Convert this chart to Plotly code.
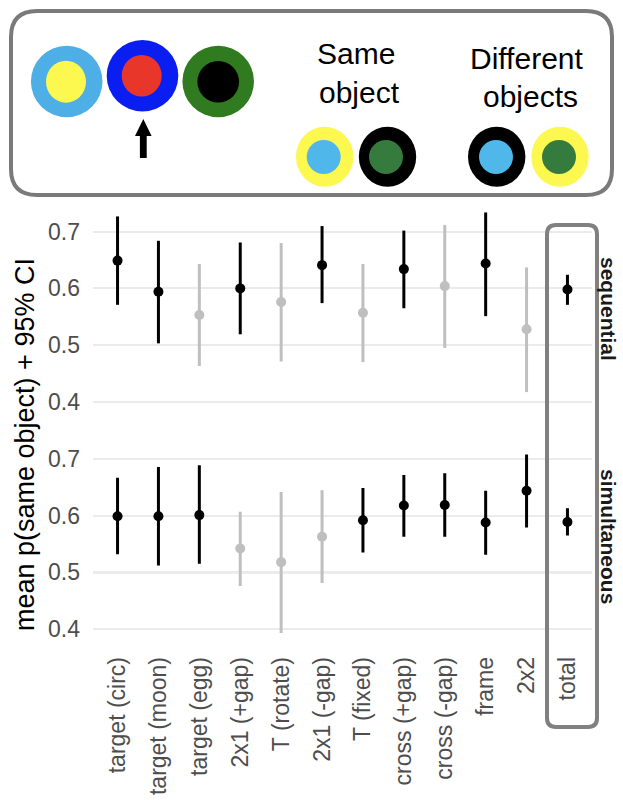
import plotly.graph_objects as go

W, H = 623, 800

categories = ["target (circ)", "target (moon)", "target (egg)", "2x1 (+gap)", "T (rotate)",
              "2x1 (-gap)", "T (fixed)", "cross (+gap)", "cross (-gap)", "frame", "2x2", "total"]

seq_mean = [0.649, 0.594, 0.553, 0.600, 0.576, 0.641, 0.557, 0.634, 0.604, 0.644, 0.528, 0.598]
seq_lo = [0.571, 0.503, 0.463, 0.519, 0.471, 0.574, 0.470, 0.565, 0.495, 0.551, 0.417, 0.571]
seq_hi = [0.727, 0.684, 0.643, 0.681, 0.680, 0.710, 0.643, 0.702, 0.712, 0.734, 0.637, 0.624]
seq_sig = [1, 1, 0, 1, 0, 1, 0, 1, 0, 1, 0, 1]

sim_mean = [0.599, 0.599, 0.601, 0.542, 0.518, 0.563, 0.592, 0.618, 0.619, 0.588, 0.644, 0.589]
sim_lo = [0.532, 0.512, 0.515, 0.476, 0.393, 0.481, 0.535, 0.563, 0.563, 0.531, 0.579, 0.565]
sim_hi = [0.667, 0.686, 0.689, 0.607, 0.642, 0.645, 0.649, 0.672, 0.675, 0.644, 0.708, 0.613]
sim_sig = [1, 1, 1, 0, 0, 0, 1, 1, 1, 1, 1, 1]

y_ticks = [0.4, 0.5, 0.6, 0.7]
y_tick_labels = ["0.4", "0.5", "0.6", "0.7"]
ref_value = 0.5
y_range = [0.3764, 0.7505]

FONT = "Liberation Sans, Arial, Helvetica, sans-serif"
BLACK = "#000000"
GREY = "#bfbfbf"


def X(px):
    return px / W


def Y(py):
    return 1 - py / H


def rr_path(x0, y0, x1, y1, r):
    return (f"M {X(x0 + r)},{Y(y0)} L {X(x1 - r)},{Y(y0)} "
            f"Q {X(x1)},{Y(y0)} {X(x1)},{Y(y0 + r)} "
            f"L {X(x1)},{Y(y1 - r)} Q {X(x1)},{Y(y1)} {X(x1 - r)},{Y(y1)} "
            f"L {X(x0 + r)},{Y(y1)} Q {X(x0)},{Y(y1)} {X(x0)},{Y(y1 - r)} "
            f"L {X(x0)},{Y(y0 + r)} Q {X(x0)},{Y(y0)} {X(x0 + r)},{Y(y0)} Z")


fig = go.Figure()


def add_panel(mean, lo, hi, sig, xa, ya):
    for flag, col in [(0, GREY), (1, BLACK)]:
        idx = [i for i in range(len(categories)) if sig[i] == flag]
        fig.add_trace(go.Scatter(
            x=[categories[i] for i in idx],
            y=[mean[i] for i in idx],
            mode="markers",
            marker=dict(size=10, color=col),
            error_y=dict(type="data", symmetric=False,
                         array=[hi[i] - mean[i] for i in idx],
                         arrayminus=[mean[i] - lo[i] for i in idx],
                         thickness=3, width=0, color=col),
            xaxis=xa, yaxis=ya, showlegend=False, hoverinfo="skip"))


add_panel(seq_mean, seq_lo, seq_hi, seq_sig, "x", "y")
add_panel(sim_mean, sim_lo, sim_hi, sim_sig, "x2", "y2")

x_dom = [X(93), X(592)]
seq_dom = [Y(415.1), Y(203.1)]
sim_dom = [Y(642.4), Y(430.4)]

xcommon = dict(type="category", categoryorder="array", categoryarray=categories,
               range=[-0.6, len(categories) - 0.4], showgrid=False, zeroline=False,
               showline=False, ticks="", domain=x_dom)
ycommon = dict(range=y_range, tickvals=y_ticks, ticktext=y_tick_labels, showgrid=True,
               gridcolor="#ebebeb", gridwidth=1.5, zeroline=False, showline=False, ticks="",
               tickfont=dict(family=FONT, size=23, color="#4d4d4d"), ticklabelstandoff=12)

fig.update_layout(
    width=W, height=H, autosize=False,
    margin=dict(l=0, r=0, t=0, b=0),
    paper_bgcolor="white", plot_bgcolor="white",
    xaxis=dict(**xcommon, anchor="y", showticklabels=False),
    yaxis=dict(**ycommon, domain=seq_dom, anchor="x"),
    xaxis2=dict(**xcommon, anchor="y2", showticklabels=True, tickangle=-90,
                tickfont=dict(family=FONT, size=23, color="#4d4d4d"), ticklabelstandoff=9),
    yaxis2=dict(**ycommon, domain=sim_dom, anchor="x2"),
)

shapes = []
for ya in ["y", "y2"]:
    xr = "x domain" if ya == "y" else "x2 domain"
    shapes.append(dict(type="line", xref=xr, yref=ya, x0=0, x1=1, y0=ref_value, y1=ref_value,
                       line=dict(color="#bdbdbd", width=2), layer="below"))

shapes.append(dict(type="path", xref="paper", yref="paper", path=rr_path(547, 225, 597, 727, 9),
                   line=dict(color="#808080", width=4), layer="above"))
shapes.append(dict(type="path", xref="paper", yref="paper", path=rr_path(11, 11, 612, 195, 26),
                   line=dict(color="#7a7a7a", width=4), fillcolor="white", layer="above"))


def ellipse(cx, cy, rx, ry, color):
    shapes.append(dict(type="circle", xref="paper", yref="paper",
                       x0=X(cx - rx), x1=X(cx + rx), y0=Y(cy + ry), y1=Y(cy - ry),
                       fillcolor=color, line=dict(width=0), layer="above"))


LBLUE = "#4eaee6"
YELLOW = "#fcf84f"
BLUE = "#0a1ef2"
RED = "#e8372a"
DGREEN = "#307a20"
GREEN2 = "#367b3e"
LBLUE2 = "#50b7ea"

ellipse(66.7, 81.5, 35.8, 35.8, LBLUE)
ellipse(66.0, 81.7, 20.0, 21.0, YELLOW)
ellipse(142.5, 75.8, 35.8, 35.8, BLUE)
ellipse(141.7, 75.8, 20.0, 20.8, RED)
ellipse(218.2, 81.5, 35.8, 35.8, DGREEN)
ellipse(218.2, 81.8, 20.8, 20.8, "#000000")

ellipse(324.7, 156.7, 28.7, 30, YELLOW)
ellipse(323.7, 157, 17, 17, LBLUE2)
ellipse(387.5, 156.7, 28.7, 30, "#000000")
ellipse(386.0, 157, 17, 17, GREEN2)
ellipse(496.7, 156.7, 28.7, 30, "#000000")
ellipse(496.0, 157, 17, 17, LBLUE2)
ellipse(560.0, 156.7, 28.7, 30, YELLOW)
ellipse(559.0, 157, 17, 17, GREEN2)

ax = 143.3
arrow = (f"M {X(ax)},{Y(119)} L {X(ax + 8.3)},{Y(136)} L {X(ax + 3.4)},{Y(136)} "
         f"L {X(ax + 3.4)},{Y(158)} L {X(ax - 3.4)},{Y(158)} L {X(ax - 3.4)},{Y(136)} "
         f"L {X(ax - 8.3)},{Y(136)} Z")
shapes.append(dict(type="path", xref="paper", yref="paper", path=arrow,
                   fillcolor="#000000", line=dict(width=0), layer="above"))

fig.update_layout(shapes=shapes)

ann = []


def text(s, px, py, size, color="#000000", angle=0):
    ann.append(dict(text=s, x=X(px), y=Y(py), xref="paper", yref="paper", showarrow=False,
                    xanchor="center", yanchor="middle", textangle=angle,
                    font=dict(family=FONT, size=size, color=color)))


text("Same", 356, 53, 30)
text("object", 359, 92, 30)
text("Different", 527, 58, 30)
text("objects", 530, 97, 30)

text("mean p(same object) + 95% CI", 25, 445, 27, angle=-90)
text("<b>sequential</b>", 609, 309, 21, color="#1a1a1a", angle=90)
text("<b>simultaneous</b>", 609, 536, 21, color="#1a1a1a", angle=90)

fig.update_layout(annotations=ann)

fig.write_html("out.html")
